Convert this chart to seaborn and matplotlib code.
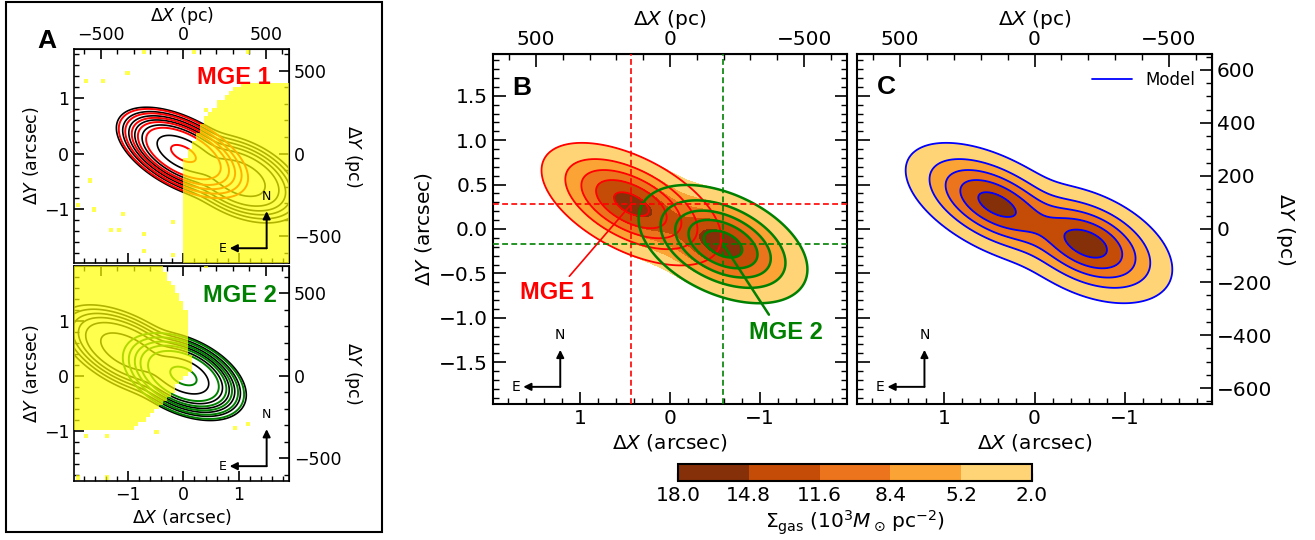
import numpy as np
import matplotlib
matplotlib.use("Agg")
import matplotlib.pyplot as plt
import seaborn as sns
from matplotlib.path import Path
from matplotlib.patches import Rectangle
from matplotlib.lines import Line2D
from matplotlib.ticker import MultipleLocator, NullFormatter
from matplotlib.colors import ListedColormap

sns.set_style("ticks")
plt.rcParams["font.family"] = "DejaVu Sans"
for k in ["text.color", "axes.labelcolor", "xtick.color", "ytick.color", "axes.edgecolor"]:
    plt.rcParams[k] = "black"

# ---- values ----
# MGE components, sky frame (Delta X grows to the east = left)
mge_x0 = [0.43, -0.59]          # arcsec
mge_y0 = [0.28, -0.17]
mge_pa = [27.7, 25.3]           # deg
mge_q = [0.48, 0.56]
mge_amp = [16.0, 16.5]          # 1e3 Msun/pc^2
mge_sigma = [0.537, 0.489]      # arcsec, major axis

gas_levels = [2.0, 5.2, 8.4, 11.6, 14.8, 18.0]
gas_colors = ["#fed476", "#fba334", "#ec741c", "#c44c06", "#853008"]
line_levels = [2.0, 5.2, 8.4, 11.6, 14.8]

# panel A
obs_levels_A = [0.75, 1.3, 2.1, 3.2, 5.0, 10.0]
mge_levels_A = [0.93, 1.6, 2.6, 3.9, 6.2, 14.4]
mask1_x = [-0.03, -0.03, 0.06, 0.30, 0.45, 0.66, 0.90, 1.14, 2.2, 2.2]
mask1_y = [-2.2, -0.35, -0.02, 0.49, 0.73, 0.97, 1.15, 1.27, 1.27, -2.2]
mask2_x = [-2.2, -0.48, -0.30, -0.15, -0.03, 0.09, 0.12, 0.0, -0.12, -0.30, -0.48, -0.79, -0.91, -2.2]
mask2_y = [2.2, 2.2, 1.80, 1.61, 1.37, 1.07, 0.11, -0.01, -0.19, -0.43, -0.61, -0.86, -0.98, -0.98]
# isolated masked pixels
dots1_x = [-1.74, -1.50, -0.99, -0.71, 0.19, 1.15, 0.43, -1.71, -1.65, -1.07, -1.34, -1.13,
           -0.71, -0.20, -0.17, -0.71, -1.95]
dots1_y = [1.28, 1.34, 1.49, 1.82, 1.85, 1.85, 0.80, -0.47, -1.01, -1.10, -1.37, -1.40,
           -1.46, -1.22, -1.82, -1.79, -0.92]
dots2_x = [0.40, 0.94, 1.15, -1.80, -1.36, -0.47, -1.95, -1.36]
dots2_y = [1.96, -0.92, -0.83, -1.07, -1.07, -1.05, -1.83, -1.83]

pc_per_arcsec = 335.0


def mge_map(x, y, i):
    pa = np.deg2rad(mge_pa[i])
    dx, dy = x - mge_x0[i], y - mge_y0[i]
    u = dx * np.cos(pa) + dy * np.sin(pa)
    v = (-dx * np.sin(pa) + dy * np.cos(pa)) / mge_q[i]
    return mge_amp[i] * np.exp(-0.5 * (u**2 + v**2) / mge_sigma[i]**2)


def combine(a, b):
    return np.hypot(a, b)


def a2pc(v):
    return v * pc_per_arcsec


def pc2a(v):
    return v / pc_per_arcsec


W, H = 1315, 540
fig = plt.figure(figsize=(W / 100, H / 100), dpi=100)


def px_axes(l, t, r, b):
    return fig.add_axes([l / W, 1 - b / H, (r - l) / W, (b - t) / H])


def ticks(ax, size, big, small):
    ax.tick_params(which="major", direction="in", length=big, width=1.2, labelsize=size, color="k")
    ax.tick_params(which="minor", direction="in", length=small, width=1.0, color="k")


def compass(ax, cx, cy, lpx, fs):
    bb = ax.get_position()
    wpx, hpx = bb.width * W, bb.height * H
    ly, lx = lpx / hpx, lpx / wpx
    ap = dict(arrowstyle="-|>", color="k", lw=1.4, mutation_scale=11, shrinkA=0, shrinkB=0)
    ax.annotate("", xy=(cx, cy + ly), xytext=(cx, cy), xycoords="axes fraction", arrowprops=ap, zorder=10)
    ax.annotate("", xy=(cx - lx, cy), xytext=(cx, cy), xycoords="axes fraction", arrowprops=ap, zorder=10)
    ax.text(cx, cy + ly + 8 / hpx, "N", transform=ax.transAxes, ha="center", va="bottom", fontsize=fs, zorder=10)
    ax.text(cx - lx - 3 / wpx, cy, "E", transform=ax.transAxes, ha="right", va="center", fontsize=fs, zorder=10)


# ---------------- panel A ----------------
xa = np.linspace(-2.2, 2.2, 441)
XA, YA = np.meshgrid(xa, xa)
pix = 0.075
edges = np.arange(-2.1, 2.1 + 1e-9, pix)
cen = 0.5 * (edges[:-1] + edges[1:])
CX, CY = np.meshgrid(cen, cen)
yellow = ListedColormap(["#ffff00"])

axA1 = px_axes(74, 49, 289, 263)
axA2 = px_axes(74, 266, 289, 481)
setupA = [
    (axA1, 0, "red", "MGE 1", mask1_x, mask1_y, dots1_x, dots1_y, (-1.98, 1.89)),
    (axA2, 1, "green", "MGE 2", mask2_x, mask2_y, dots2_x, dots2_y, (-1.90, 1.99)),
]
for ax, ref, col, name, mx, my, dx_, dy_, ylim in setupA:
    sx = mge_x0[ref] - XA
    sy = YA + mge_y0[ref]
    obs = combine(mge_map(sx, sy, 0), mge_map(sx, sy, 1))
    model = mge_map(sx, sy, ref)
    ax.contour(XA, YA, obs, levels=obs_levels_A, colors="k", linewidths=1.2, zorder=1)
    ax.contour(XA, YA, model, levels=mge_levels_A, colors=col, linewidths=1.4, zorder=2)
    inside = Path(np.column_stack([mx, my])).contains_points(
        np.column_stack([CX.ravel(), CY.ravel()])).reshape(CX.shape)
    ix = np.floor((np.array(dx_) - edges[0]) / pix).astype(int)
    iy = np.floor((np.array(dy_) - edges[0]) / pix).astype(int)
    inside[iy, ix] = True
    img = np.where(inside, 1.0, np.nan)
    ax.imshow(img, extent=[edges[0], edges[-1], edges[0], edges[-1]], origin="lower",
              cmap=yellow, vmin=0, vmax=1, alpha=0.7, interpolation="nearest",
              aspect="auto", zorder=3)
    ax.set_xlim(-1.98, 1.91)
    ax.set_ylim(*ylim)
    ax.xaxis.set_major_locator(MultipleLocator(1))
    ax.xaxis.set_minor_locator(MultipleLocator(0.2))
    ax.yaxis.set_major_locator(MultipleLocator(1))
    ax.yaxis.set_minor_locator(MultipleLocator(0.2))
    ticks(ax, 12.5, 7, 3.5)
    ax.set_ylabel(r"$\Delta Y$ (arcsec)", fontsize=12.5, labelpad=2)
    for s in ax.spines.values():
        s.set_linewidth(1.2)
    top = ax.secondary_xaxis("top", functions=(a2pc, pc2a))
    top.xaxis.set_major_locator(MultipleLocator(500))
    top.xaxis.set_minor_locator(MultipleLocator(100))
    ticks(top, 12.5, 7, 3.5)
    right = ax.secondary_yaxis("right", functions=(a2pc, pc2a))
    right.yaxis.set_major_locator(MultipleLocator(500))
    right.yaxis.set_minor_locator(MultipleLocator(100))
    ticks(right, 12.5, 7, 3.5)
    right.set_ylabel(r"$\Delta Y$ (pc)", fontsize=12.5, rotation=270, labelpad=16)
    ax.text(0.915 if ref == 0 else 0.945, 0.865, name, transform=ax.transAxes, ha="right",
            va="center", color=col, fontsize=17, fontweight="bold", family="Liberation Sans",
            zorder=11)
    compass(ax, 0.896, 0.069, 37, 9)
    if ref == 0:
        ax.tick_params(labelbottom=False)
        top.set_xlabel(r"$\Delta X$ (pc)", fontsize=12.5)
    else:
        top.xaxis.set_major_formatter(NullFormatter())
        ax.set_xlabel(r"$\Delta X$ (arcsec)", fontsize=12.5, labelpad=2)

fig.text(47 / W, 1 - 41 / H, "A", fontsize=19, fontweight="bold", family="Liberation Sans",
         ha="center", va="center")
fig.add_artist(Rectangle((6 / W, 1 - 532 / H), 376 / W, 530 / H, transform=fig.transFigure,
                         fill=False, lw=1.5, ec="k"))

# ---------------- panels B and C ----------------
xs = np.linspace(-2.2, 2.2, 441)
X, Y = np.meshgrid(xs, xs)
g1 = mge_map(X, Y, 0)
g2 = mge_map(X, Y, 1)
total = combine(g1, g2)
gas = np.clip(total, None, 17.99)
pal = sns.color_palette(gas_colors)

axB = px_axes(493, 54, 847, 404)
axC = px_axes(857, 54, 1212, 404)
for ax in (axB, axC):
    cf = ax.contourf(X, Y, gas, levels=gas_levels, colors=pal, zorder=0)
    ax.set_xlim(1.97, -1.97)
    ax.set_ylim(-1.97, 1.97)
    ax.xaxis.set_major_locator(MultipleLocator(1))
    ax.xaxis.set_minor_locator(MultipleLocator(0.2))
    ax.yaxis.set_major_locator(MultipleLocator(0.5))
    ax.yaxis.set_minor_locator(MultipleLocator(0.1))
    ticks(ax, 14.5, 9, 4.5)
    for s in ax.spines.values():
        s.set_linewidth(1.5)
    ax.set_xlabel(r"$\Delta X$ (arcsec)", fontsize=14.5, labelpad=3)
    top = ax.secondary_xaxis("top", functions=(a2pc, pc2a))
    top.xaxis.set_major_locator(MultipleLocator(500))
    top.xaxis.set_minor_locator(MultipleLocator(100))
    ticks(top, 14.5, 9, 4.5)
    top.set_xlabel(r"$\Delta X$ (pc)", fontsize=14.5)
    compass(ax, 0.19, 0.049, 37, 10)

# B
axB.tick_params(which="both", right=True, labelright=False)
axB.set_ylabel(r"$\Delta Y$ (arcsec)", fontsize=14.5)
axB.contour(X, Y, g1, levels=line_levels, colors="red", linewidths=1.3, zorder=2)
axB.contour(X, Y, g2, levels=line_levels, colors="green", linewidths=1.8, zorder=3)
dash = (0, (3.5, 2))
axB.axvline(mge_x0[0], color="red", lw=1.2, ls=dash, zorder=4)
axB.axhline(mge_y0[0], color="red", lw=1.2, ls=dash, zorder=4)
axB.axvline(mge_x0[1], color="green", lw=1.2, ls=dash, zorder=4)
axB.axhline(mge_y0[1], color="green", lw=1.2, ls=dash, zorder=4)
axB.annotate("MGE 1", xy=(mge_x0[0], mge_y0[0]), xytext=(1.26, -0.71), ha="center", va="center",
             color="red", fontsize=17, fontweight="bold", family="Liberation Sans",
             arrowprops=dict(arrowstyle="-", color="red", lw=1.2, shrinkA=1, shrinkB=0,
                             relpos=(0.62, 1.0)), zorder=6)
axB.annotate("MGE 2", xy=(mge_x0[1], mge_y0[1]), xytext=(-1.29, -1.17), ha="center", va="center",
             color="green", fontsize=17, fontweight="bold", family="Liberation Sans",
             arrowprops=dict(arrowstyle="-", color="green", lw=1.8, shrinkA=3, shrinkB=0,
                             relpos=(0.33, 1.0)), zorder=6)
axB.text(0.081, 0.903, "B", transform=axB.transAxes, ha="center", va="center", fontsize=19,
         fontweight="bold", family="Liberation Sans")

# C
axC.tick_params(which="both", left=True, labelleft=False)
axC.contour(X, Y, total, levels=line_levels, colors="blue", linewidths=1.3, zorder=2)
rightC = axC.secondary_yaxis("right", functions=(a2pc, pc2a))
rightC.yaxis.set_major_locator(MultipleLocator(200))
rightC.yaxis.set_minor_locator(MultipleLocator(50))
ticks(rightC, 14.5, 9, 4.5)
rightC.set_ylabel(r"$\Delta Y$ (pc)", fontsize=14.5, rotation=270, labelpad=18)
axC.legend(handles=[Line2D([], [], color="blue", lw=1.3)], labels=["Model"], loc="upper right",
           frameon=False, fontsize=12, handlelength=2.4, borderaxespad=0.6)
axC.text(0.084, 0.907, "C", transform=axC.transAxes, ha="center", va="center", fontsize=19,
         fontweight="bold", family="Liberation Sans")

# colorbar
cax = px_axes(678, 464, 1032, 481)
cbar = fig.colorbar(cf, cax=cax, orientation="horizontal")
cbar.set_ticks(gas_levels)
cbar.set_ticklabels([f"{v:.1f}" for v in gas_levels])
cax.invert_xaxis()
cax.tick_params(direction="in", length=6, width=1.5, labelsize=14.5, color="k")
cbar.outline.set_linewidth(1.5)
cbar.outline.set_edgecolor("k")
cbar.set_label(r"$\Sigma_{\rm gas}$ $(10^3 M_\odot\,{\rm pc}^{-2})$", fontsize=14.5, labelpad=3)

fig.savefig("out.png", dpi=100)
